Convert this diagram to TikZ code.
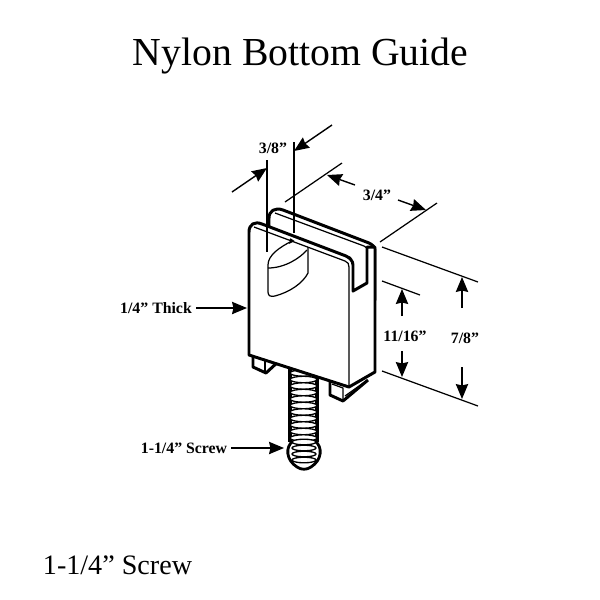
\documentclass[tikz,border=0pt]{standalone}
\usepackage{fontspec}
\setmainfont{Liberation Serif}
\usetikzlibrary{positioning,arrows.meta}
\tikzset{
    title/.style = {
        inner sep=0pt,
        font=\fontsize{22.6}{26}\selectfont
    },
    caption/.style = {
        inner sep=0pt,
        font=\fontsize{16}{19}\selectfont
    },
    dimension/.style = {
        inner sep=0pt,
        font=\fontsize{9}{11}\selectfont\bfseries
    },
    outline/.style = {
        draw,
        line width=1.7pt,
        line join=round,
        fill=white
    },
    edge/.style = {
        draw,
        line width=0.7pt,
        line join=round
    },
    extension/.style = {
        draw,
        line width=0.7pt
    },
    pointer/.style = {
        draw,
        line width=0.8pt,
        -{Stealth[inset=0.8pt,length=8.5pt,width=7pt]}
    },
    thread/.style = {
        draw,
        line width=0.75pt,
        fill=white
    },
}

\begin{document}
\begin{tikzpicture}[x=0.02cm,y=-0.02cm]
    \useasboundingbox (0,0) rectangle (600,600);

    \node[title] (heading) at (300.5,56) {Nylon Bottom Guide};
    \node[caption] (screwnote) at (117.5,565) {1-1/4” Screw};

    % screw
    \path[draw, line width=2.2pt] (290,368) -- (290,442);
    \path[draw, line width=2.2pt] (317,372) -- (317,442);
    \foreach \y in {373,379.5,...,440} {
        \path[thread] (303.5,\y) ellipse (13.5 and 3.2);
    }
    \path[draw, line width=1.6pt, fill=white] (293,441) .. controls (285,447) and (286,460) .. (297,467) .. controls (301,470) and (307,470) .. (311,467) .. controls (322,460) and (323,447) .. (315,441);
    \foreach \y in {442,448,454,460} {
        \path[thread] (304,\y) ellipse (12 and 2.8);
    }

    % back plate
    \path[outline] (269,240) -- (269,218) .. controls (269,211) and (275,207) .. (283,210) -- (369,243) .. controls (373,245) and (375,247) .. (375,251) -- (375,300) -- (350,300) -- (350,258) -- (269,240);
    \path[edge] (275,213) -- (364,246) .. controls (367,247) and (368,249) .. (368,251) -- (368,284);

    % feet
    \path[outline] (253,355) -- (253,367) -- (266,373) -- (279,361);
    \path[edge] (265,358) -- (265,372);
    \path[edge] (267,372) -- (277,362);
    \path[outline] (330,380) -- (330,395) -- (343,401) -- (368,380);
    \path[edge] (332,384) -- (343,388) -- (343,399);
    \path[edge] (345,396) -- (366,381);

    % front plate
    \path[outline] (249,355) -- (249,232) .. controls (249,224) and (255,221) .. (262,224) -- (346,256) .. controls (350,258) and (353,261) .. (353,265) -- (353,291) -- (367,283) -- (367,247) -- (375,247) -- (375,372) -- (349,387) -- cycle;
    \path[edge] (254,227) -- (345,261) .. controls (348,262) and (349,264) .. (349,267) -- (349,387);
    \path[edge] (353,265) -- (353,289);

    % hole
    \path[edge] (292,241) .. controls (280,247) and (268,255) .. (268,265) -- (268,292) .. controls (268,296) and (271,297) .. (275,296) .. controls (290,292) and (303,283) .. (308,273) -- (308,247);
    \path[edge] (268,268) .. controls (285,268) and (300,258) .. (307,250);
    \path[draw, line width=1pt] (290,239) -- (293,241) -- (289,243);

    % extension lines
    \path[extension] (267,160) -- (267,252);
    \path[extension] (294,142) -- (294,233);
    \path[extension] (285,202) -- (342,163);
    \path[extension] (380,242) -- (437,203);
    \path[extension] (382,247) -- (478,282);
    \path[extension] (382,281) -- (420,295);
    \path[extension] (382,371) -- (478,406);

    % labels
    \node[dimension] (thickness) at (273,148) {3/8”};
    \node[dimension] (width) at (377,195) {3/4”};
    \node[dimension] (slot) at (405,336) {11/16”};
    \node[dimension] (height) at (465,338) {7/8”};
    \node[dimension] (wall) at (156,308) {1/4” Thick};
    \node[dimension] (screw) at (184,448) {1-1/4” Screw};

    % free ends of the arrows
    \coordinate (thicka) at (232,192);
    \coordinate (thickaend) at (267,168);
    \coordinate (thickb) at (332,125);
    \coordinate (thickbend) at (294,151);
    \coordinate (widtha) at (355,185);
    \coordinate (widthaend) at (327,175);
    \coordinate (widthb) at (398,200);
    \coordinate (widthbend) at (426,210);
    \coordinate (slota) at (402,316);
    \coordinate (slotaend) at (402,289);
    \coordinate (slotb) at (402,351);
    \coordinate (slotbend) at (402,377);
    \coordinate (heighta) at (462,308);
    \coordinate (heightaend) at (462,277);
    \coordinate (heightb) at (462,367);
    \coordinate (heightbend) at (462,399);
    \coordinate (wallend) at (247,308);
    \coordinate (screwend) at (284,448);

    \path[pointer] (thicka) -- (thickaend);
    \path[pointer] (thickb) -- (thickbend);
    \path[pointer] (widtha) -- (widthaend);
    \path[pointer] (widthb) -- (widthbend);
    \path[pointer] (slota) -- (slotaend);
    \path[pointer] (slotb) -- (slotbend);
    \path[pointer] (heighta) -- (heightaend);
    \path[pointer] (heightb) -- (heightbend);
    \path[pointer] (wall.east) ++(4,0) -- (wallend);
    \path[pointer] (screw.east) ++(4,0) -- (screwend);
\end{tikzpicture}
\end{document}
